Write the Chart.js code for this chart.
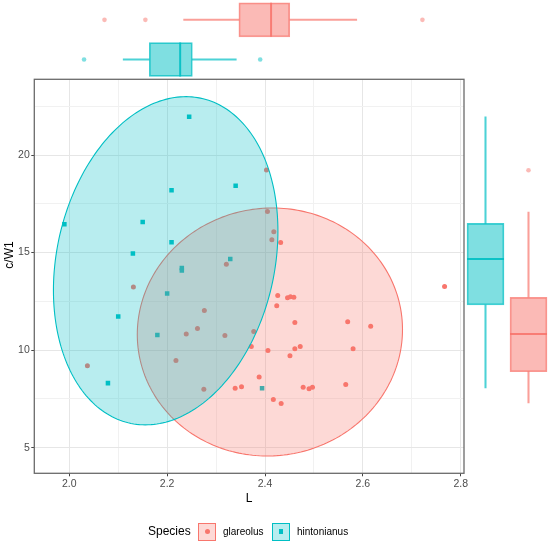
<!DOCTYPE html>
<html>
<head>
<meta charset="utf-8">
<script src="https://cdn.jsdelivr.net/npm/chart.js@4.4.0/dist/chart.umd.min.js"></script>
<style>
  html, body { margin: 0; padding: 0; background: #fff; }
  #wrap { position: relative; width: 550px; height: 544px; overflow: hidden; font-family: "Liberation Sans", Arial, sans-serif; }
  #wrap canvas { position: absolute; }
  #mainChart { left: 0; top: 0; }
  #topChart { left: 0; top: 0; }
  #rightChart { left: 464px; top: 79px; }
  .ytitle { position: absolute; left: -21.5px; top: 247px; width: 60px; height: 16px; line-height: 16px;
            text-align: center; font-size: 12px; color: #000; transform: rotate(-90deg); }
  .lg { position: absolute; top: 523px; line-height: 17px; color: #000; }
  .lg_title { left: 148px; font-size: 12px; }
  .lg_text { font-size: 10px; }
  .lg_key { position: absolute; top: 522.5px; width: 18px; height: 18px; box-sizing: border-box; }
  .lg_key i { position: absolute; left: 50%; top: 50%; }
</style>
</head>
<body>
<div id="wrap">
  <canvas id="mainChart" width="550" height="544"></canvas>
  <canvas id="topChart" width="550" height="80"></canvas>
  <canvas id="rightChart" width="86" height="395"></canvas>
  <div class="ytitle">c/W1</div>
  <!-- legend -->
  <div class="lg lg_title">Species</div>
  <div class="lg_key" style="left:198px;border:1px solid #F8766D;background:rgba(248,118,109,0.28)">
    <i style="width:5px;height:5px;margin:-2.5px 0 0 -2.5px;border-radius:50%;background:#F8766D"></i>
  </div>
  <div class="lg lg_text" style="left:223px">glareolus</div>
  <div class="lg_key" style="left:272px;border:1px solid #00BFC4;background:rgba(0,191,196,0.28)">
    <i style="width:4.5px;height:4.5px;margin:-2.25px 0 0 -2.25px;background:#00BFC4"></i>
  </div>
  <div class="lg lg_text" style="left:297px">hintonianus</div>
</div>

<script>
  // 데이터
  var speciesNames = ['glareolus', 'hintonianus'];

  var glareolusL = [2.403, 2.405, 2.418, 2.414, 2.432, 2.321, 2.131, 2.767, 2.426, 2.446, 2.452, 2.459, 2.424,
    2.276, 2.461, 2.569, 2.616, 2.239, 2.262, 2.318, 2.377, 2.372, 2.406, 2.461, 2.472, 2.580, 2.451, 2.218,
    2.388, 2.275, 2.339, 2.352, 2.478, 2.490, 2.497, 2.565, 2.417, 2.433, 2.037];
  var glareolusCW1 = [19.23, 17.10, 16.07, 15.66, 15.51, 14.40, 13.23, 13.26, 12.80, 12.69, 12.73, 12.71, 12.28,
    12.03, 11.41, 11.45, 11.23, 10.83, 11.11, 10.75, 10.95, 10.18, 9.98, 10.07, 10.18, 10.07, 9.71, 9.47,
    8.62, 8.00, 8.05, 8.12, 8.10, 8.02, 8.10, 8.24, 7.47, 7.27, 9.20];

  var hintonianusL = [2.245, 2.340, 2.209, 1.990, 2.150, 2.209, 2.130, 2.329, 2.230, 2.230, 2.200, 2.100, 2.180, 2.394, 2.079];
  var hintonianusCW1 = [21.96, 18.43, 18.19, 16.45, 16.57, 15.53, 14.95, 14.67, 14.21, 14.08, 12.90, 11.72, 10.77, 8.05, 8.31];

  // ellipse: center L, center c/W1, half width, half height, correlation
  var ellipseGlareolus = [2.410, 10.93, 0.271, 6.355, 0.02];
  var ellipseHintonianus = [2.197, 14.58, 0.2294, 8.41, 0.18];

  // marginal boxplots: lower whisker, Q1, median, Q3, upper whisker
  var topBoxGlareolus = [2.217, 2.344, 2.418, 2.461, 2.615];
  var topBoxHintonianus = [2.078, 2.138, 2.209, 2.237, 2.338];
  var topOutGlareolus = [2.035, 2.129, 2.766];
  var topOutHintonianus = [1.988, 2.393];
  var rightBoxGlareolus = [7.29, 8.90, 10.83, 12.71, 17.07];
  var rightBoxHintonianus = [8.07, 12.32, 14.67, 16.50, 21.96];
  var rightOutGlareolus = [19.22];
  var rightOutHintonianus = [];

  // 축
  var xRange = [1.9285, 2.8067];
  var yRange = [3.688, 23.88];
  var xGrid = [2.0, 2.1, 2.2, 2.3, 2.4, 2.5, 2.6, 2.7, 2.8];
  var xMajor = [2.0, 2.2, 2.4, 2.6, 2.8];
  var yGrid = [5, 7.5, 10, 12.5, 15, 17.5, 20, 22.5];
  var yMajor = [5, 10, 15, 20];

  var RED = '#F8766D', CYAN = '#00BFC4';
  var redA = function (a) { return 'rgba(248,118,109,' + a + ')'; };
  var cyanA = function (a) { return 'rgba(0,191,196,' + a + ')'; };

  function isMajor(list, v) {
    return list.some(function (m) { return Math.abs(m - v) < 1e-6; });
  }

  // 타원 (데이터 뒤에 그림)
  var ellipsePlugin = {
    id: 'ellipses',
    afterDatasetsDraw: function (chart) {
      var ctx = chart.ctx, area = chart.chartArea, sx = chart.scales.x, sy = chart.scales.y;
      var list = [[ellipseGlareolus, RED, redA(0.28)], [ellipseHintonianus, CYAN, cyanA(0.28)]];
      ctx.save();
      ctx.beginPath();
      ctx.rect(area.left, area.top, area.right - area.left, area.bottom - area.top);
      ctx.clip();
      list.forEach(function (e) {
        var p = e[0], s = Math.sqrt(1 - p[4] * p[4]);
        ctx.beginPath();
        for (var k = 0; k <= 240; k++) {
          var t = k / 240 * 2 * Math.PI;
          var px = sx.getPixelForValue(p[0] + p[2] * Math.cos(t));
          var py = sy.getPixelForValue(p[1] + p[3] * (p[4] * Math.cos(t) + s * Math.sin(t)));
          if (k === 0) ctx.moveTo(px, py); else ctx.lineTo(px, py);
        }
        ctx.closePath();
        ctx.fillStyle = e[2];
        ctx.fill();
        ctx.lineWidth = 1.1;
        ctx.strokeStyle = e[1];
        ctx.stroke();
      });
      ctx.restore();
    }
  };

  // 패널 테두리
  var borderPlugin = {
    id: 'panelBorder',
    afterDraw: function (chart) {
      var ctx = chart.ctx, a = chart.chartArea;
      ctx.save();
      ctx.strokeStyle = '#6a6a6a';
      ctx.lineWidth = 1.3;
      ctx.strokeRect(a.left, a.top, a.right - a.left, a.bottom - a.top);
      ctx.restore();
    }
  };

  function toPoints(xs, ys) {
    return xs.map(function (v, i) { return { x: v, y: ys[i] }; });
  }

  new Chart(document.getElementById('mainChart'), {
    type: 'scatter',
    data: {
      datasets: [
        { label: 'glareolus', data: toPoints(glareolusL, glareolusCW1), pointStyle: 'circle',
          pointRadius: 2.5, backgroundColor: RED, borderWidth: 0 },
        { label: 'hintonianus', data: toPoints(hintonianusL, hintonianusCW1), pointStyle: 'rect',
          pointRadius: 3.2, backgroundColor: CYAN, borderWidth: 0 }
      ]
    },
    options: {
      responsive: false,
      animation: false,
      events: [],
      layout: { autoPadding: false, padding: { left: 0, top: 79.3, right: 86, bottom: 34.7 } },
      plugins: { legend: { display: false }, tooltip: { enabled: false } },
      scales: {
        x: {
          type: 'linear', min: xRange[0], max: xRange[1],
          afterBuildTicks: function (axis) { axis.ticks = xGrid.map(function (v) { return { value: v }; }); },
          afterFit: function (axis) { axis.height = 36; },
          border: { display: false },
          grid: {
            color: function (c) { return isMajor(xMajor, c.tick.value) ? '#e6e6e6' : '#f1f1f1'; },
            lineWidth: 1,
            tickLength: 3,
            tickColor: function (c) { return isMajor(xMajor, c.tick.value) ? '#444' : 'rgba(0,0,0,0)'; }
          },
          ticks: {
            autoSkip: false, maxRotation: 0, padding: 2, color: '#4d4d4d',
            font: { family: 'Liberation Sans', size: 10.5 },
            callback: function (v) { return isMajor(xMajor, v) ? v.toFixed(1) : ''; }
          },
          title: { display: true, text: 'L', color: '#000', padding: { top: 0, bottom: 3.6 },
                   font: { family: 'Liberation Sans', size: 12 } }
        },
        y: {
          type: 'linear', min: yRange[0], max: yRange[1],
          afterBuildTicks: function (axis) { axis.ticks = yGrid.map(function (v) { return { value: v }; }); },
          afterFit: function (axis) { axis.width = 34.3; },
          border: { display: false },
          grid: {
            color: function (c) { return isMajor(yMajor, c.tick.value) ? '#e6e6e6' : '#f1f1f1'; },
            lineWidth: 1,
            tickLength: 3,
            tickColor: function (c) { return isMajor(yMajor, c.tick.value) ? '#444' : 'rgba(0,0,0,0)'; }
          },
          ticks: {
            autoSkip: false, padding: 1.5, color: '#4d4d4d',
            font: { family: 'Liberation Sans', size: 10.5 },
            callback: function (v) { return isMajor(yMajor, v) ? String(v) : ''; }
          }
        }
      }
    },
    plugins: [ellipsePlugin, borderPlugin]
  });

  // 주변 박스플롯 데이터셋 (같은 stack 으로 한 자리에 겹쳐 그림)
  function boxDatasets(cats, stats, outs, cat, horizontal, color, thick) {
    var idx = cats.indexOf(cat);
    function slot(pair) {
      return cats.map(function (n, i) { return i === idx ? pair : null; });
    }
    function pt(v) { return horizontal ? { x: v, y: cat } : { x: cat, y: v }; }
    var ia = horizontal ? 'y' : 'x';
    return [
      { type: 'bar', indexAxis: ia, stack: 'box', data: slot([stats[0], stats[1]]),
        backgroundColor: color(0.7), borderWidth: 0, barThickness: 1.4 },
      { type: 'bar', indexAxis: ia, stack: 'box', data: slot([stats[3], stats[4]]),
        backgroundColor: color(0.7), borderWidth: 0, barThickness: 1.4 },
      { type: 'bar', indexAxis: ia, stack: 'box', data: slot([stats[1], stats[3]]),
        backgroundColor: color(0.5), borderColor: color(0.75), borderWidth: 1.1,
        borderSkipped: false, barThickness: thick },
      { type: 'scatter', data: [pt(stats[2])], pointStyle: 'line', pointRotation: horizontal ? 90 : 0,
        pointRadius: thick / 2, pointBorderWidth: 2, pointBorderColor: color(0.9) },
      { type: 'scatter', data: outs.map(pt), pointStyle: 'circle', pointRadius: 2.3,
        pointBackgroundColor: color(0.5), pointBorderWidth: 0 }
    ];
  }

  function marginOptions(cats, horizontal, pad) {
    var valueScale = { type: 'linear', display: false, stacked: false,
                       min: horizontal ? xRange[0] : yRange[0], max: horizontal ? xRange[1] : yRange[1] };
    var catScale = { type: 'category', labels: cats, display: false, offset: true, stacked: true,
                     grid: { offset: true } };
    return {
      responsive: false,
      animation: false,
      events: [],
      layout: { autoPadding: false, padding: pad },
      plugins: { legend: { display: false }, tooltip: { enabled: false } },
      scales: horizontal ? { x: valueScale, y: catScale } : { x: catScale, y: valueScale }
    };
  }

  // 상단 (L)
  var topCats = ['glareolus', 'hintonianus'];
  new Chart(document.getElementById('topChart'), {
    type: 'bar',
    data: {
      labels: topCats,
      datasets: boxDatasets(topCats, topBoxGlareolus, topOutGlareolus, 'glareolus', true, redA, 34)
        .concat(boxDatasets(topCats, topBoxHintonianus, topOutHintonianus, 'hintonianus', true, cyanA, 34))
    },
    options: marginOptions(topCats, true, { left: 34.3, right: 86, top: 0, bottom: 0.7 })
  });

  // 우측 (c/W1) - hintonianus 왼쪽, glareolus 오른쪽
  var rightCats = ['hintonianus', 'glareolus'];
  new Chart(document.getElementById('rightChart'), {
    type: 'bar',
    data: {
      labels: rightCats,
      datasets: boxDatasets(rightCats, rightBoxHintonianus, rightOutHintonianus, 'hintonianus', false, cyanA, 37)
        .concat(boxDatasets(rightCats, rightBoxGlareolus, rightOutGlareolus, 'glareolus', false, redA, 37))
    },
    options: marginOptions(rightCats, false, { left: 0, right: 0, top: 0.3, bottom: 0.7 })
  });
</script>
</body>
</html>
